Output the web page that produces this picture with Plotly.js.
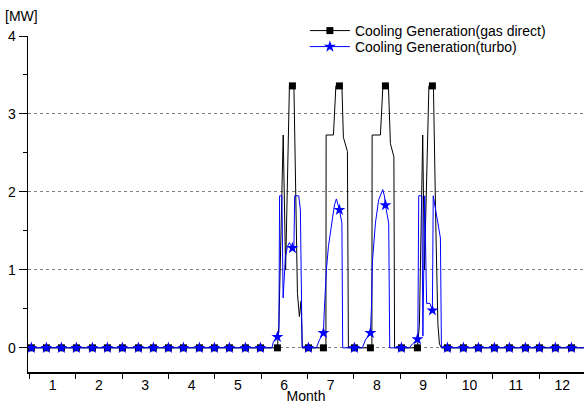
<!DOCTYPE html>
<html>
<head>
<meta charset="utf-8">
<script src="https://cdn.plot.ly/plotly-3.0.1.min.js"></script>
<style>html,body{margin:0;padding:0;background:#fff;}#chart{width:584px;height:404px;}</style>
</head>
<body>
<div id="chart"></div>
<script>
// ---- Data (x in months, y in MW) ----
const monthLabels = ['1','2','3','4','5','6','7','8','9','10','11','12'];
const monthCenters = [1,2,3,4,5,6,7,8,9,10,11,12];
const monthEdges = [0.5,1.5,2.5,3.5,4.5,5.5,6.5,7.5,8.5,9.5,10.5,11.5,12.5];

// Cooling generation (gas direct): line vertices
const gasX = [0.5,5.853,5.885,5.978,6.03,6.112,6.177,6.209,6.285,6.328,6.364,6.392,
  6.9,6.904,7.062,7.115,7.191,7.245,7.277,7.364,7.385,
  7.892,7.897,8.076,8.13,8.184,8.249,8.292,8.367,8.382,
  8.875,8.918,8.989,9.026,9.123,9.198,9.22,9.274,9.317,9.35,9.393,12.5];
const gasY = [0,0,0.3,2.73,1.0,3.36,3.36,3.36,0.7,0.4,0.6,0,
  0,2.73,2.73,3.36,3.36,3.36,2.7,2.52,0,
  0,2.73,2.73,3.36,3.36,3.36,2.62,2.45,0,
  0,0.3,2.73,1.0,3.36,3.36,3.36,1.5,0.3,0.05,0,0];

// Cooling generation (turbo): line vertices
const turboX = [0.5,5.734,5.767,5.853,5.885,5.9,5.95,5.976,6.026,6.069,6.112,6.177,6.209,6.226,6.313,6.349,6.386,
  6.695,6.759,6.846,6.867,6.91,6.954,7.018,7.083,7.126,7.159,7.191,7.245,7.262,
  7.687,7.752,7.86,7.882,7.903,7.968,8.039,8.126,8.162,8.184,8.255,8.277,
  8.702,8.767,8.875,8.885,8.903,8.972,8.993,9.032,9.073,9.145,9.198,9.216,9.371,9.393,12.5];
const turboY = [0,0,0.08,0.14,0.2,1.95,1.95,0.64,1.17,1.3,1.35,1.28,1.3,1.95,1.95,1.77,0,
  0,0.1,0.19,0.5,1.0,1.3,1.6,1.83,1.91,1.85,1.77,1.6,0,
  0,0.1,0.19,0.5,1.1,1.6,1.9,2.03,1.95,1.83,1.6,0,
  0,0.05,0.11,0.2,1.95,1.95,0.15,1.95,0.57,0.57,0.48,1.95,1.41,0,0];

// Marked samples (every ~10 days)
const markX = [0.543,0.867,1.191,1.514,1.860,2.184,2.507,2.853,3.176,3.500,3.824,4.169,4.493,4.817,5.162,5.486,
  5.853,6.177,6.522,6.846,7.191,7.515,7.860,8.184,8.529,8.875,9.198,9.522,
  9.867,10.191,10.536,10.860,11.206,11.508,11.853,12.199];
const gasMark = [0,0,0,0,0,0,0,0,0,0,0,0,0,0,0,0,
  0,3.36,0,0,3.36,0,0,3.36,0,0,3.36,0,
  0,0,0,0,0,0,0,0];
const turboMark = [0,0,0,0,0,0,0,0,0,0,0,0,0,0,0,0,
  0.14,1.28,0,0.19,1.77,0,0.19,1.83,0,0.11,0.48,0,
  0,0,0,0,0,0,0,0];

const seriesNames = ['Cooling Generation(gas direct)','Cooling Generation(turbo)'];

const FONT = 'Liberation Sans, Arial, sans-serif';
const BLUE = '#0000ff';

const traces = [
  {x: gasX, y: gasY, mode: 'lines', line: {color: '#000', width: 1}, showlegend: false, hoverinfo: 'skip'},
  {x: markX, y: gasMark, mode: 'markers', marker: {symbol: 'square', size: 7, color: '#000'}, showlegend: false},
  {x: turboX, y: turboY, mode: 'lines', line: {color: BLUE, width: 1}, showlegend: false, hoverinfo: 'skip'},
  {x: markX, y: turboMark, mode: 'markers', marker: {symbol: 'star', size: 9, color: BLUE}, showlegend: false},
  {x: [null], y: [null], mode: 'lines+markers', name: seriesNames[0], legend: 'legend',
   line: {color: '#000', width: 1}, marker: {symbol: 'square', size: 7, color: '#000'}},
  {x: [null], y: [null], mode: 'lines+markers', name: seriesNames[1], legend: 'legend2',
   line: {color: BLUE, width: 1}, marker: {symbol: 'star', size: 9, color: BLUE}}
];

const legendCommon = {xanchor: 'left', yanchor: 'middle', bgcolor: 'rgba(0,0,0,0)',
  font: {family: FONT, size: 14, color: '#000'}, itemwidth: 40, borderwidth: 0};

const layout = {
  width: 584, height: 404,
  margin: {l: 28, r: 0, t: 36, b: 32},
  paper_bgcolor: '#fff', plot_bgcolor: '#fff',
  font: {family: FONT, size: 14, color: '#000'},
  xaxis: {
    range: [0.47, 12.47],
    tickmode: 'array', tickvals: monthCenters, ticktext: monthLabels,
    ticks: '', showgrid: false, zeroline: false,
    showline: true, linecolor: '#000', linewidth: 1.5,
    tickfont: {family: FONT, size: 14, color: '#000'},
    minor: {tickmode: 'array', tickvals: monthEdges, ticks: 'outside', ticklen: 5, tickwidth: 1, tickcolor: '#000', showgrid: false},
    title: {text: 'Month', font: {family: FONT, size: 14, color: '#000'}, standoff: 0}
  },
  yaxis: {
    range: [-0.31, 4],
    tickmode: 'array', tickvals: [0,1,2,3,4],
    ticks: 'outside', ticklen: 8, tickwidth: 1, tickcolor: '#000',
    showgrid: true, gridcolor: '#808080', griddash: 'dot', gridwidth: 1,
    zeroline: false,
    showline: true, linecolor: '#000', linewidth: 1.5,
    tickfont: {family: FONT, size: 14, color: '#000'},
    minor: {tickmode: 'array', tickvals: [0.5,1.5,2.5,3.5], ticks: 'outside', ticklen: 4, tickwidth: 1, tickcolor: '#000', showgrid: false}
  },
  legend: Object.assign({x: 0.498, y: 1.0149}, legendCommon),
  legend2: Object.assign({x: 0.498, y: 0.9673}, legendCommon),
  annotations: [{text: '[MW]', xref: 'paper', yref: 'paper', x: -0.045, y: 1.0595,
    xanchor: 'left', yanchor: 'middle', showarrow: false, font: {family: FONT, size: 14, color: '#000'}}]
};

Plotly.newPlot('chart', traces, layout, {displayModeBar: false, staticPlot: true});
</script>
</body>
</html>
